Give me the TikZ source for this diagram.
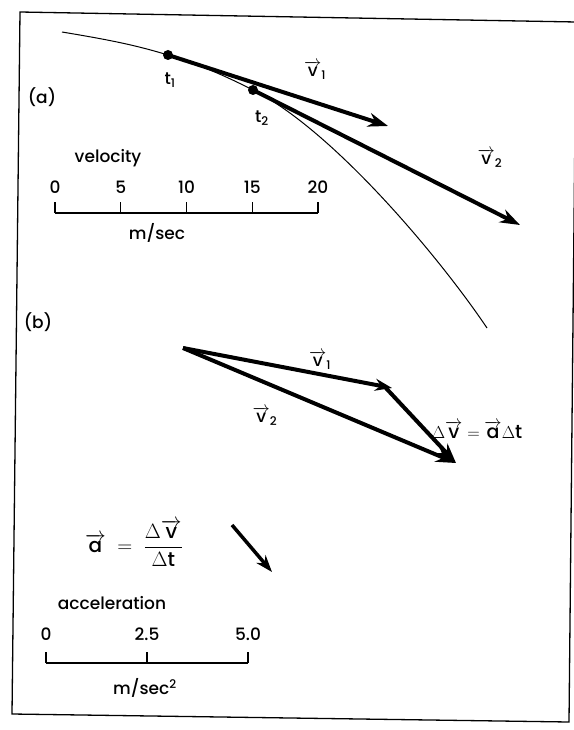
\documentclass[tikz,border=0pt]{standalone}
\usepackage{amsmath}
\usepackage{fontspec}
\setmainfont{Poppins}[UprightFont=* Medium]
\usetikzlibrary{arrows.meta,calc}

\newcommand{\vecl}[2]{$\overrightarrow{\text{#1}}_{\text{#2}}$}

\begin{document}
\begin{tikzpicture}[x=1pt,y=-1pt,>={Stealth[length=20pt,width=14pt]},font=\fontsize{17}{20}\selectfont]
\tikzstyle{vec}=[->,line width=4pt]
\tikzstyle{dot}=[circle,fill=black,inner sep=0pt,minimum size=10pt]
\tikzstyle{lbl}=[inner sep=1pt]
\tikzstyle{bar}=[line width=1.4pt]
\useasboundingbox (0,0) rectangle (573,730);
% frame
\draw[line width=1.3pt] (20,12) -- (576,22) -- (569,722) -- (12,714) -- cycle;

% (a) trajectory
\node[lbl] (pa) at (42,97) {(a)};
\coordinate (s) at (62,32);
\node[dot] (t1) at (168,55) {};
\node[dot] (t2) at (253,90) {};
\coordinate (e) at (487,328);
\draw[line width=1pt] (s) .. controls (110,40) and (135,45) .. (t1.center)
  .. controls (200,65.3) and (220,73.3) .. (t2.center)
  .. controls (333,130) and (440,258) .. (e);
\node[lbl] at (170,80) {t\textsubscript{1}};
\node[lbl] at (262,118) {t\textsubscript{2}};
\coordinate (v1a) at (388,126);
\coordinate (v2a) at (520,225);
\draw[vec] (t1.center) -- (v1a);
\draw[vec] (t2.center) -- (v2a);
\node[lbl] at (315,70) {\vecl{v}{1}};
\node[lbl] at (490,158) {\vecl{v}{2}};

% velocity scale
\node[lbl] (vel) at (108,158) {velocity};
\coordinate (v0) at (55,213);
\coordinate (v20) at (318,213);
\draw[bar] (v0) -- (v20);
\foreach \n [count=\i from 0] in {0,5,10,15,20} {
  \draw[bar] ($(v0)!\i/4!(v20)$) -- ++(0,-11);
  \node[lbl] at ($(v0)!\i/4!(v20)+(0,-26)$) {\n};
}
\node[lbl] at (157,233) {m/sec};

% (b) vector difference
\node[lbl] (pb) at (38,322) {(b)};
\coordinate (o) at (183,348);
\coordinate (w1) at (392,388);
\coordinate (w2) at (456,463);
\draw[vec,>={Stealth[length=17pt,width=12pt]}] (o) -- (w1);
\draw[vec] (o) -- (w2);
\draw[vec] ($(w1)+(-8,-2)$) -- (w2);
\node[lbl] at (320,360) {\vecl{v}{1}};
\node[lbl] at (265,416) {\vecl{v}{2}};
\node[lbl,font=\fontsize{19}{22}\selectfont] at (477,430) {$\Delta\overrightarrow{\text{v}} = \overrightarrow{\text{a}}\Delta\text{t}$};

% acceleration
\node[lbl,font=\fontsize{20}{24}\selectfont] at (134,543) {$\overrightarrow{\text{a}} \;=\; \dfrac{\Delta\overrightarrow{\text{v}}}{\Delta\text{t}}$};
\coordinate (a0) at (232,525);
\coordinate (a1) at (272,572);
\draw[vec,line width=3.5pt,>={Stealth[length=17pt,width=12pt]}] (a0) -- (a1);

% acceleration scale
\node[lbl] at (112,603) {acceleration};
\coordinate (c0) at (46,663);
\coordinate (c5) at (248,663);
\draw[bar] (c0) -- (c5);
\foreach \n [count=\i from 0] in {0,2.5,5.0} {
  \draw[bar] ($(c0)!\i/2!(c5)$) -- ++(0,-11);
  \node[lbl] at ($(c0)!\i/2!(c5)+(0,-29)$) {\n};
}
\node[lbl] at (145,688) {m/sec\textsuperscript{2}};
\end{tikzpicture}
\end{document}
